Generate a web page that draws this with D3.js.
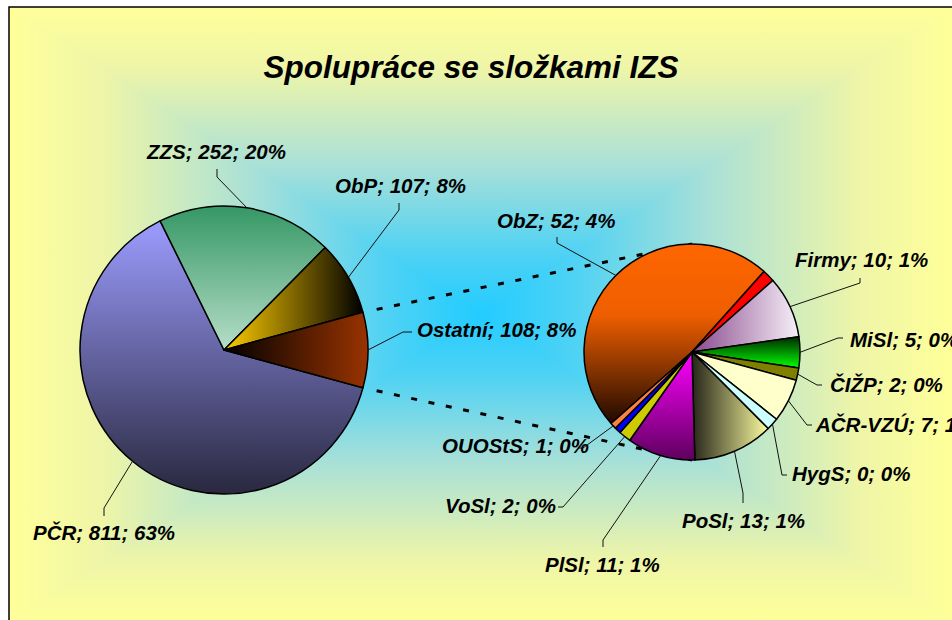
<!DOCTYPE html>
<html>
<head>
<meta charset="utf-8">
<script src="https://cdn.jsdelivr.net/npm/d3@7"></script>
<style>
  body { margin: 0; background: #fff; }
  svg { display: block; }
  text { font-family: 'Liberation Sans', Arial, sans-serif; font-weight: bold; font-style: italic; fill: #000; }
</style>
</head>
<body>
<svg id="chart"></svg>
<script>
// main pie
const mainNames = ['PČR', 'ZZS', 'ObP', 'Ostatní'];
const mainValues = [811, 252, 107, 108];

// secondary pie (breakdown of "Ostatní"); '' = slice without a label
const secNames = ['ObZ', '', 'Firmy', 'MiSl', 'ČIŽP', 'AČR-VZÚ', 'HygS', 'PoSl', 'PlSl', 'VoSl', '', 'OUOStS'];
const secValues = [52, 2, 10, 5, 2, 7, 2, 13, 11, 2, 1, 1];
// values as printed in the data labels
const secShown = [52, null, 10, 5, 2, 7, 0, 13, 11, 2, null, 1];

const W = 952, H = 620;
const svg = d3.select('#chart').attr('width', W).attr('height', H);
const defs = svg.append('defs');

function gradient(id, v, stops, user) {
  const g = defs.append('linearGradient').attr('id', id);
  if (user) {
    g.attr('gradientUnits', 'userSpaceOnUse')
     .attr('x1', user[0]).attr('y1', user[1]).attr('x2', user[2]).attr('y2', user[3]);
  } else {
    g.attr('x1', 0).attr('y1', 0).attr('x2', v ? 0 : 1).attr('y2', v ? 1 : 0);
  }
  stops.forEach(s => g.append('stop').attr('offset', s[0]).attr('stop-color', s[1]));
  return 'url(#' + id + ')';
}

// chart area background: rectangular "from centre" gradient
const area = { x0: 9, y0: 7, x1: 952, y1: 622 };
const bcx = (area.x0 + area.x1) / 2, bcy = (area.y0 + area.y1) / 2;
// colour at distance t from the centre (0 = centre, 1 = edge)
const bgProfile = [[0, '#22CCFF'], [0.2, '#4FD2F4'], [0.48, '#A8E0D8'], [0.8, '#EEF5A8'], [1, '#FFFF99']];
const bgStops = bgProfile.map(s => [0.5 - s[0] / 2, s[1]]).reverse()
  .concat(bgProfile.slice(1).map(s => [0.5 + s[0] / 2, s[1]]));
const bgH = gradient('bgH', false, bgStops, [area.x0, 0, area.x1, 0]);
const bgV = gradient('bgV', true, bgStops, [0, area.y0, 0, area.y1]);
svg.append('rect').attr('x', area.x0).attr('y', area.y0)
  .attr('width', area.x1 - area.x0).attr('height', area.y1 - area.y0).attr('fill', bgH);
svg.append('path').attr('fill', bgV)
  .attr('d', `M${area.x0},${area.y0}L${area.x1},${area.y0}L${bcx},${bcy}Z`);
svg.append('path').attr('fill', bgV)
  .attr('d', `M${area.x0},${area.y1}L${area.x1},${area.y1}L${bcx},${bcy}Z`);
svg.append('rect').attr('x', area.x0).attr('y', area.y0)
  .attr('width', area.x1 - area.x0 + 40).attr('height', area.y1 - area.y0 + 40)
  .attr('fill', 'none').attr('stroke', '#000').attr('stroke-width', 1.5);

// title
svg.append('text').attr('x', 471).attr('y', 78).attr('text-anchor', 'middle')
  .style('font-size', '31.5px').text('Spolupráce se složkami IZS');

// slice fills
const mainFills = [
  gradient('gPCR', true, [[0, '#9C9CFF'], [1, '#29283F']]),
  gradient('gZZS', true, [[0, '#359765'], [1, '#B6DEC8']]),
  gradient('gObP', false, [[0, '#FFCC00'], [1, '#000000']]),
  gradient('gOst', false, [[0, '#000000'], [1, '#993300']])
];
const secFills = [
  gradient('gObZ', true, [[0, '#FF6600'], [0.4, '#EE5E00'], [1, '#1E0900']]),
  '#FF0000',
  gradient('gFir', false, [[0, '#8A4A8E'], [1, '#F6F0F8']]),
  gradient('gMiS', true, [[0, '#002800'], [1, '#00FF00']]),
  '#808000',
  '#FFFFCC',
  '#CCFFFF',
  gradient('gPoS', false, [[0, '#25251A'], [1, '#FBFB9E']]),
  gradient('gPlS', true, [[0, '#FF00FF'], [1, '#5E005E']]),
  '#CCCC00',
  '#0000FF',
  '#FF8040'
];

// label placement (text start / baseline, leader knee and end)
const mainLabelPos = [
  { x: 33, y: 540, knee: [104, 508], end: [104, 516] },
  { x: 147, y: 159, knee: [217, 177], end: [217, 169] },
  { x: 335, y: 193, knee: [399, 210], end: [399, 203] },
  { x: 417, y: 337, knee: [403, 332], end: [412, 332] }
];
const secLabelPos = [
  { x: 497, y: 228, knee: [557, 243], end: [557, 237] },
  null,
  { x: 795, y: 267, knee: [860, 283], end: [860, 278] },
  { x: 850, y: 347, knee: [838, 338], end: [843, 338] },
  { x: 830, y: 392, knee: [817, 385], end: [822, 385] },
  { x: 816, y: 432, knee: [807, 425], end: [812, 425] },
  { x: 792, y: 481, knee: [782, 475], end: [787, 475] },
  { x: 682, y: 528, knee: [743, 493], end: [743, 503] },
  { x: 545, y: 572, knee: [603, 540], end: [603, 547] },
  { x: 445, y: 513, knee: [563, 507], end: [558, 507] },
  null,
  { x: 442, y: 453, knee: [583, 448], end: [578, 448] }
];

const total = d3.sum(mainValues);
const pct = v => Math.round(v / total * 100) + '%';

const main = { cx: 224, cy: 350, r: 144 };
const sec = { cx: 692, cy: 352, r: 108 };

const ostIdx = mainNames.indexOf('Ostatní');
const ostSpan = mainValues[ostIdx] / total * 2 * Math.PI;
const mainStart = Math.PI / 2 + ostSpan / 2;
const secStart = 228.5 * Math.PI / 180;

const mainArcs = d3.pie().sort(null).startAngle(mainStart).endAngle(mainStart + 2 * Math.PI)(mainValues);
const secArcs = d3.pie().sort(null).startAngle(secStart).endAngle(secStart + 2 * Math.PI)(secValues);

const polar = (c, a, r) => [c.cx + r * Math.sin(a), c.cy - r * Math.cos(a)];

// connector lines between the "Ostatní" slice and the secondary pie
const ost = mainArcs[ostIdx];
[[ost.startAngle, -1], [ost.endAngle, 1]].forEach(([a, s]) => {
  const p0 = polar(main, a, main.r);
  const p1 = [sec.cx, sec.cy + s * sec.r];
  const len = Math.hypot(p1[0] - p0[0], p1[1] - p0[1]);
  const ux = (p1[0] - p0[0]) / len, uy = (p1[1] - p0[1]) / len;
  svg.append('line')
    .attr('x1', p0[0] + ux * 14).attr('y1', p0[1] + uy * 14)
    .attr('x2', p1[0]).attr('y2', p1[1])
    .attr('stroke', '#000').attr('stroke-width', 3)
    .attr('stroke-dasharray', '6 11.7');
});

function drawPie(c, arcs, fills) {
  const arc = d3.arc().innerRadius(0).outerRadius(c.r);
  svg.append('g').attr('transform', `translate(${c.cx},${c.cy})`)
    .selectAll('path').data(arcs).enter().append('path')
    .attr('d', arc)
    .attr('fill', (d, i) => fills[i])
    .attr('stroke', '#000').attr('stroke-width', 1.5).attr('stroke-linejoin', 'round');
}
drawPie(main, mainArcs, mainFills);
drawPie(sec, secArcs, secFills);

function drawLabels(c, arcs, pos, text) {
  arcs.forEach((d, i) => {
    const p = pos[i];
    if (!p) return;
    const a = polar(c, (d.startAngle + d.endAngle) / 2, c.r);
    svg.append('polyline')
      .attr('points', [a, p.knee, p.end].map(q => q.join(',')).join(' '))
      .attr('fill', 'none').attr('stroke', '#111').attr('stroke-width', 1);
    svg.append('text').attr('x', p.x).attr('y', p.y)
      .style('font-size', '20.5px').text(text(i));
  });
}
drawLabels(main, mainArcs, mainLabelPos, i => `${mainNames[i]}; ${mainValues[i]}; ${pct(mainValues[i])}`);
drawLabels(sec, secArcs, secLabelPos, i => `${secNames[i]}; ${secShown[i]}; ${pct(secValues[i])}`);
</script>
</body>
</html>
